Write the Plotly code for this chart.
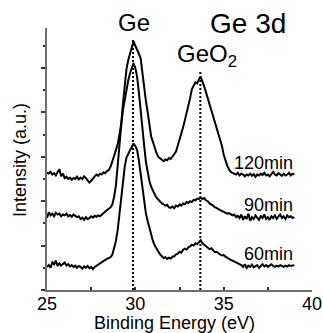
import numpy as np
import plotly.graph_objects as go

# Binding energy sampling grid (eV), 0.1 eV steps from 25.0 to 39.0
energy = np.round(np.arange(25.0, 39.0001, 0.1), 1)

# Intensities (a.u., offset spectra)
i120 = [2.64, 2.62, 2.66, 2.60, 2.63, 2.58, 2.66, 2.72, 2.56, 2.62,
        2.52, 2.55, 2.50, 2.53, 2.48, 2.52, 2.50, 2.55, 2.49, 2.53,
        2.50, 2.56, 2.52, 2.47, 2.42, 2.46, 2.52, 2.56, 2.60, 2.57,
        2.62, 2.60, 2.65, 2.63, 2.68, 2.70, 2.78, 2.88, 3.02, 3.15,
        3.28, 3.50, 3.75, 4.20, 4.60, 4.98, 5.18, 5.33, 5.45, 5.60,
        5.50, 5.42, 5.32, 5.22, 4.85, 4.60, 4.25, 4.00, 3.68, 3.45,
        3.33, 3.18, 3.08, 3.00, 2.96, 2.92, 2.90, 2.94, 2.92, 2.97,
        2.95, 3.00, 3.05, 3.12, 3.25, 3.38, 3.50, 3.66, 3.82, 3.98,
        4.12, 4.32, 4.52, 4.62, 4.68, 4.65, 4.75, 4.80, 4.70, 4.58,
        4.45, 4.32, 4.18, 4.05, 3.92, 3.80, 3.65, 3.52, 3.40, 3.25,
        3.05, 2.92, 2.80, 2.72, 2.66, 2.64, 2.62, 2.60, 2.64, 2.58,
        2.62, 2.60, 2.56, 2.60, 2.58, 2.62, 2.57, 2.61, 2.55, 2.60,
        2.58, 2.62, 2.59, 2.64, 2.58, 2.60, 2.56, 2.62, 2.66, 2.60,
        2.58, 2.63, 2.60, 2.57, 2.62, 2.58, 2.60, 2.64, 2.58, 2.62,
        2.60]

i90 = [1.62, 1.75, 1.68, 1.72, 1.66, 1.74, 1.70, 1.72, 1.66, 1.70,
       1.68, 1.72, 1.66, 1.69, 1.65, 1.70, 1.67, 1.64, 1.66, 1.60,
       1.63, 1.58, 1.64, 1.60, 1.62, 1.66, 1.63, 1.67, 1.65, 1.68,
       1.66, 1.70, 1.72, 1.76, 1.80, 1.83, 1.86, 1.93, 2.10, 2.35,
       2.85, 3.35, 3.70, 4.05, 4.30, 4.52, 4.72, 4.88, 5.00, 5.11,
       5.00, 4.80, 4.45, 4.10, 3.60, 3.25, 2.88, 2.65, 2.45, 2.32,
       2.22, 2.15, 2.08, 2.03, 1.98, 1.95, 1.93, 1.90, 1.92, 1.86,
       1.85, 1.88, 1.84, 1.90, 1.88, 1.93, 1.90, 1.95, 1.93, 1.98,
       1.96, 2.00, 1.98, 2.03, 2.02, 2.06, 2.05, 2.08, 2.05, 2.07,
       2.02, 2.00, 1.95, 1.93, 1.90, 1.86, 1.85, 1.82, 1.80, 1.78,
       1.76, 1.74, 1.72, 1.73, 1.70, 1.68, 1.70, 1.64, 1.67, 1.62,
       1.70, 1.58, 1.66, 1.60, 1.72, 1.56, 1.64, 1.60, 1.68, 1.62,
       1.58, 1.66, 1.62, 1.70, 1.60, 1.64, 1.58, 1.66, 1.62, 1.68,
       1.60, 1.65, 1.70, 1.62, 1.66, 1.60, 1.68, 1.64, 1.66, 1.62,
       1.64]

i60 = [0.52, 0.56, 0.50, 0.62, 0.58, 0.66, 0.54, 0.60, 0.55, 0.58,
       0.62, 0.55, 0.58, 0.53, 0.56, 0.52, 0.55, 0.50, 0.54, 0.52,
       0.48, 0.53, 0.50, 0.54, 0.49, 0.52, 0.47, 0.52, 0.55, 0.58,
       0.60, 0.62, 0.66, 0.68, 0.70, 0.72, 0.74, 0.80, 0.95, 1.10,
       1.35, 1.70, 2.10, 2.45, 2.78, 2.98, 3.08, 3.15, 3.22, 3.30,
       3.24, 3.15, 2.92, 2.62, 2.25, 1.95, 1.72, 1.55, 1.38, 1.22,
       1.10, 1.00, 0.93, 0.86, 0.80, 0.76, 0.72, 0.74, 0.70, 0.73,
       0.71, 0.75, 0.76, 0.80, 0.82, 0.86, 0.84, 0.90, 0.93, 0.91,
       0.96, 0.98, 1.02, 1.00, 1.05, 1.03, 1.08, 1.12, 1.05, 1.02,
       0.98, 0.95, 0.92, 0.94, 0.88, 0.85, 0.86, 0.82, 0.80, 0.78,
       0.79, 0.75, 0.72, 0.70, 0.68, 0.66, 0.64, 0.62, 0.60, 0.58,
       0.56, 0.52, 0.58, 0.50, 0.55, 0.52, 0.57, 0.51, 0.54, 0.56,
       0.50, 0.54, 0.58, 0.53, 0.56, 0.52, 0.55, 0.58, 0.54, 0.52,
       0.55, 0.53, 0.56, 0.54, 0.52, 0.55, 0.53, 0.56, 0.54, 0.55,
       0.56]

spectra = [("60min", i60), ("90min", i90), ("120min", i120)]

# Reference peak positions (eV) and heights of the dotted marker lines
peak_names = ["Ge", "GeO2"]
peak_pos = [29.87, 33.68]
peak_line_top = [5.63, 4.95]

# Label positions (data coordinates)
label_y = {"120min": 2.85, "90min": 1.91, "60min": 0.82}

assert len(energy) == len(i120) == len(i90) == len(i60)

FONT = "Liberation Sans, Arial, sans-serif"
fig = go.Figure()

for name, vals in spectra:
    fig.add_trace(go.Scatter(x=energy, y=vals, mode="lines", name=name,
                             line=dict(color="black", width=2),
                             showlegend=False, hoverinfo="skip"))

for name, pos, top in zip(peak_names, peak_pos, peak_line_top):
    fig.add_trace(go.Scatter(x=[pos, pos], y=[0, top], mode="lines",
                             line=dict(color="black", width=2, dash="2px,2px"),
                             showlegend=False, hoverinfo="skip"))

annotations = []
for name, _ in spectra:
    annotations.append(dict(x=39.05, y=label_y[name], xref="x", yref="y",
                            text=name, showarrow=False, xanchor="right",
                            yanchor="middle", font=dict(size=18, color="black", family=FONT)))

# paper-coordinate labels (positions converted from pixels of the 265x262 plot area)
annotations += [
    dict(x=(134 - 47) / 265, y=(290 - 22) / 262, xref="paper", yref="paper", text="Ge",
         showarrow=False, xanchor="center", yanchor="middle",
         font=dict(size=24, color="black", family=FONT)),
    dict(x=(207 - 47) / 265, y=(290 - 55) / 262, xref="paper", yref="paper",
         text="GeO<sub>2</sub>", showarrow=False, xanchor="center", yanchor="middle",
         font=dict(size=24, color="black", family=FONT)),
    dict(x=(248 - 47) / 265, y=(290 - 24) / 262, xref="paper", yref="paper", text="Ge 3d",
         showarrow=False, xanchor="center", yanchor="middle",
         font=dict(size=28, color="black", family=FONT)),
    dict(x=(174 - 47) / 265, y=(290 - 323) / 262, xref="paper", yref="paper",
         text="Binding Energy (eV)", showarrow=False, xanchor="center", yanchor="middle",
         font=dict(size=18, color="black", family=FONT)),
    dict(x=(20 - 47) / 265, y=(290 - 160) / 262, xref="paper", yref="paper",
         text="Intensity (a.u.)", showarrow=False, xanchor="center", yanchor="middle",
         textangle=-90, font=dict(size=18, color="black", family=FONT)),
]

axcol = "#6e6e6e"
tickcol = "#333333"
fig.update_layout(
    width=323, height=333,
    margin=dict(l=47, r=11, t=28, b=43, autoexpand=False),
    plot_bgcolor="white", paper_bgcolor="white",
    showlegend=False,
    annotations=annotations,
    # primary x axis: line, labels, inside major + minor ticks
    xaxis=dict(range=[25, 40], tick0=25, dtick=5, showline=True, linecolor=axcol,
               linewidth=2, ticks="inside", ticklen=3, tickwidth=1.5, tickcolor=tickcol,
               minor=dict(ticks="inside", tick0=25, dtick=2.5, ticklen=3, tickwidth=1.5,
                          tickcolor=tickcol),
               showgrid=False, zeroline=False, automargin=False,
               ticklabelstandoff=-4,
               tickfont=dict(size=18, color="black", family=FONT)),
    # overlay x axis: outside part of the major ticks
    xaxis2=dict(range=[25, 40], overlaying="x", anchor="y", side="bottom",
                tick0=25, dtick=5, ticks="outside", ticklen=3, tickwidth=1.5, tickcolor=tickcol,
                showticklabels=False, showline=False, showgrid=False, zeroline=False,
                automargin=False),
    yaxis=dict(range=[0, 5.9], tick0=0, dtick=1, showline=True, linecolor=axcol,
               linewidth=2, ticks="outside", ticklen=4, tickwidth=1.5, tickcolor=tickcol,
               minor=dict(ticks="outside", tick0=0, dtick=0.5, ticklen=2, tickwidth=1.5,
                          tickcolor=tickcol),
               showticklabels=False, showgrid=False, zeroline=False, automargin=False),
    yaxis2=dict(range=[0, 5.9], overlaying="y", anchor="x", side="left",
                tick0=0, dtick=1, ticks="inside", ticklen=4, tickwidth=1.5, tickcolor=tickcol,
                minor=dict(ticks="inside", tick0=0, dtick=0.5, ticklen=2, tickwidth=1.5,
                           tickcolor=tickcol),
                showticklabels=False, showline=False, showgrid=False, zeroline=False,
                automargin=False),
)

fig.write_html("out.html")
